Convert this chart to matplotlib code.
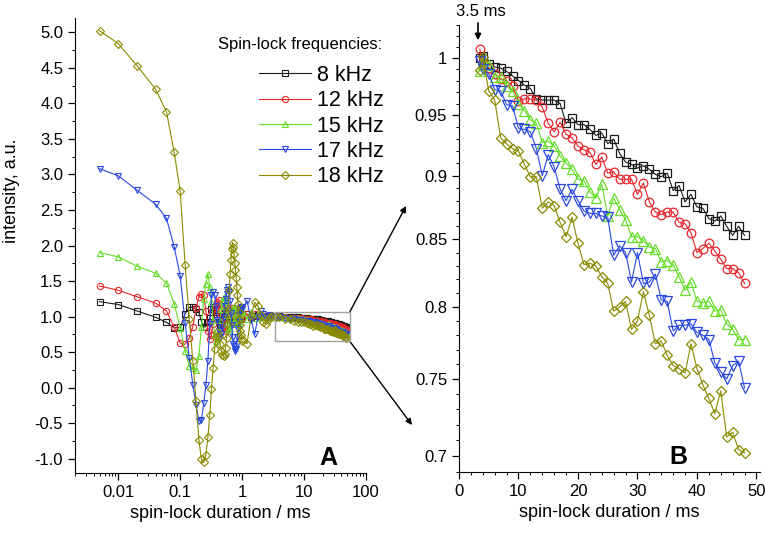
import numpy as np
import matplotlib
matplotlib.use("Agg")
import matplotlib.pyplot as plt
from matplotlib.patches import Rectangle
from matplotlib.ticker import FixedLocator, FuncFormatter, LogLocator, NullFormatter, MultipleLocator

plt.rcParams['font.family'] = ['Liberation Sans', 'DejaVu Sans']
plt.rcParams['axes.unicode_minus'] = False

# spin-lock durations, ms
t_ms = [0.005, 0.01, 0.02, 0.04, 0.06, 0.08,
        0.10, 0.12, 0.14, 0.16, 0.18, 0.20, 0.22, 0.24, 0.26, 0.28,
        0.30, 0.32, 0.34, 0.36, 0.38, 0.40, 0.42, 0.44, 0.46, 0.48,
        0.50, 0.52, 0.54, 0.56, 0.58, 0.60, 0.62, 0.64, 0.66, 0.68,
        0.70, 0.72, 0.74, 0.76, 0.78, 0.80, 0.82, 0.84, 0.86, 0.88,
        0.90, 0.92, 0.94, 0.96, 0.98, 1.00,
        1.2, 1.4, 1.6, 1.8, 2.0, 2.2, 2.4, 2.6, 2.8, 3.0,
        3.5, 4, 5, 6, 7, 8, 9, 10, 11, 12,
        13, 14, 15, 16, 17, 18, 19, 20, 21, 22,
        23, 24, 25, 26, 27, 28, 29, 30, 31, 32,
        33, 34, 35, 36, 37, 38, 39, 40, 41, 42,
        43, 44, 45, 46, 47, 48]

# intensities, a.u.
int_8khz = [1.21, 1.17, 1.08, 0.99, 0.92, 0.84,
            0.85, 1.04, 1.13, 1.13, 1.11, 1.06, 0.93, 0.85, 0.86, 0.93,
            0.98, 1.10, 1.13, 1.09, 1.03, 0.98, 0.93, 0.90, 0.91, 0.96,
            1.01, 1.05, 1.08, 1.07, 1.04, 1.00, 0.97, 0.95, 0.95, 0.96,
            0.99, 1.01, 1.03, 1.04, 1.04, 1.03, 1.01, 0.99, 0.98, 0.97,
            0.97, 0.98, 0.99, 1.00, 1.01, 1.02,
            1.03, 0.99, 1.01, 1.02, 1.01, 1.01, 1.00, 1.00, 1.01, 1.00,
            1.000, 1.002, 0.995, 0.992, 0.991, 0.988, 0.984, 0.980, 0.976, 0.973,
            0.964, 0.963, 0.963, 0.963, 0.960, 0.943, 0.948, 0.942, 0.942, 0.938,
            0.933, 0.935, 0.926, 0.930, 0.918, 0.911, 0.909, 0.906, 0.908, 0.905,
            0.901, 0.899, 0.902, 0.888, 0.892, 0.879, 0.885, 0.875, 0.874, 0.866,
            0.864, 0.868, 0.860, 0.853, 0.860, 0.853]

int_12khz = [1.43, 1.37, 1.28, 1.19, 1.08, 0.85,
             0.63, 0.61, 0.70, 0.86, 1.12, 1.28, 1.32, 1.30, 1.08, 0.80,
             0.68, 0.74, 0.90, 1.04, 1.15, 1.21, 1.23, 1.18, 1.09, 0.99,
             0.90, 0.83, 0.80, 0.82, 0.88, 0.95, 1.03, 1.09, 1.12, 1.12,
             1.08, 1.02, 0.96, 0.91, 0.89, 0.90, 0.93, 0.98, 1.02, 1.06,
             1.07, 1.06, 1.04, 1.01, 0.98, 0.96,
             1.04, 0.98, 1.03, 1.01, 1.00, 1.01, 1.00, 1.00, 1.01, 1.00,
             1.008, 0.996, 0.991, 0.986, 0.981, 0.980, 0.975, 0.962, 0.964, 0.964,
             0.963, 0.957, 0.943, 0.936, 0.944, 0.934, 0.931, 0.924, 0.921, 0.919,
             0.909, 0.915, 0.902, 0.903, 0.897, 0.897, 0.897, 0.885, 0.894, 0.879,
             0.871, 0.869, 0.871, 0.871, 0.863, 0.862, 0.855, 0.840, 0.843, 0.847,
             0.841, 0.835, 0.828, 0.828, 0.825, 0.817]

int_15khz = [1.90, 1.84, 1.71, 1.61, 1.47, 1.18,
             0.84, 0.51, 0.30, 0.27, 0.25, 0.44, 0.85, 1.25, 1.46, 1.60,
             1.42, 1.20, 0.95, 0.75, 0.66, 0.68, 0.80, 0.95, 1.10, 1.22,
             1.28, 1.25, 1.15, 1.02, 0.90, 0.82, 0.80, 0.83, 0.90, 0.98,
             1.06, 1.12, 1.14, 1.12, 1.07, 1.00, 0.94, 0.91, 0.90, 0.92,
             0.96, 1.00, 1.04, 1.07, 1.08, 1.08,
             0.96, 1.06, 0.98, 1.03, 1.00, 1.01, 1.00, 0.99, 1.00, 1.00,
             0.988, 0.998, 0.994, 0.983, 0.983, 0.975, 0.971, 0.960, 0.954, 0.946,
             0.943, 0.927, 0.928, 0.924, 0.916, 0.910, 0.905, 0.897, 0.896, 0.887,
             0.882, 0.893, 0.868, 0.882, 0.873, 0.865, 0.852, 0.852, 0.849, 0.844,
             0.843, 0.833, 0.834, 0.831, 0.822, 0.812, 0.818, 0.804, 0.803, 0.804,
             0.797, 0.798, 0.788, 0.784, 0.777, 0.777]

int_17khz = [3.08, 2.98, 2.78, 2.58, 2.38, 1.98,
             1.57, 0.91, 0.42, 0.04, -0.24, -0.47, -0.45, -0.22, 0.04, 0.38,
             0.90, 1.30, 1.35, 1.30, 1.15, 0.95, 0.80, 0.72, 0.75, 0.85,
             1.00, 1.15, 1.25, 1.32, 1.38, 1.42, 1.35, 1.22, 1.05, 0.88,
             0.72, 0.62, 0.58, 0.55, 0.52, 0.55, 0.62, 0.72, 0.82, 0.92,
             1.02, 1.08, 1.12, 1.14, 1.13, 1.10,
             1.22, 0.95, 0.75, 1.00, 1.08, 1.04, 0.98, 1.00, 1.02, 1.01,
             0.997, 0.990, 0.986, 0.972, 0.971, 0.959, 0.958, 0.939, 0.938, 0.936,
             0.922, 0.900, 0.917, 0.907, 0.889, 0.880, 0.889, 0.880, 0.872, 0.870,
             0.870, 0.868, 0.867, 0.838, 0.845, 0.840, 0.818, 0.840, 0.817, 0.818,
             0.824, 0.805, 0.804, 0.783, 0.787, 0.787, 0.788, 0.782, 0.780, 0.777,
             0.761, 0.755, 0.750, 0.759, 0.762, 0.744]

int_18khz = [5.02, 4.84, 4.53, 4.20, 3.88, 3.31,
             2.76, 1.73, 0.97, 0.37, -0.19, -0.73, -1.01, -1.05, -0.94, -0.69,
             -0.38, -0.02, 0.28, 0.55, 0.72, 0.78, 0.72, 0.62, 0.52, 0.46,
             0.45, 0.48, 0.56, 0.70, 0.90, 1.12, 1.38, 1.60, 1.80, 1.95,
             2.04, 1.98, 1.88, 1.76, 1.65, 1.54, 1.42, 1.30, 1.18, 1.07,
             0.97, 0.88, 0.80, 0.74, 0.69, 0.65,
             0.62, 1.02, 1.20, 1.15, 1.02, 0.92, 0.90, 0.95, 1.00, 1.01,
             0.989, 1.001, 0.971, 0.963, 0.931, 0.926, 0.922, 0.920, 0.909, 0.899,
             0.899, 0.874, 0.879, 0.876, 0.863, 0.852, 0.867, 0.847, 0.831, 0.832,
             0.830, 0.822, 0.817, 0.797, 0.800, 0.804, 0.784, 0.790, 0.811, 0.794,
             0.774, 0.776, 0.766, 0.759, 0.757, 0.754, 0.774, 0.757, 0.746, 0.737,
             0.727, 0.742, 0.712, 0.715, 0.704, 0.702]

labels = ['8 kHz', '12 kHz', '15 kHz', '17 kHz', '18 kHz']
series = [int_8khz, int_12khz, int_15khz, int_17khz, int_18khz]
colors = ['#1a1a1a', '#e8262a', '#66dd2a', '#2a48e0', '#8a8a00']
markers = ['s', 'o', '^', 'v', 'D']
ms_left = [4.2, 4.5, 4.8, 4.8, 3.8]
ms_right = [6.0, 6.2, 6.8, 6.8, 5.2]

ZOOM_FROM = 3.5

fig = plt.figure(figsize=(7.65, 5.46), dpi=100)
ax1 = fig.add_axes([75 / 765, 1 - 473 / 546, 291 / 765, 455 / 546])
ax2 = fig.add_axes([459 / 765, 1 - 472 / 546, 301 / 765, 447 / 546])

t = np.array(t_ms)
zoom = t >= ZOOM_FROM
handles = []
for vals, lab, c, m, msl, msr in zip(series, labels, colors, markers, ms_left, ms_right):
    v = np.array(vals)
    h, = ax1.plot(t, v, marker=m, color=c, mfc='none', mec=c, lw=0.8, ms=msl, mew=0.8, label=lab)
    ax2.plot(t[zoom], v[zoom], marker=m, color=c, mfc='none', mec=c, lw=0.8, ms=msr, mew=0.9)
    handles.append(h)

# left panel: log time axis
ax1.set_xscale('log')
ax1.set_xlim(0.002, 100)
ax1.set_ylim(-1.2, 5.2)
ax1.xaxis.set_major_locator(FixedLocator([0.01, 0.1, 1, 10, 100]))
ax1.xaxis.set_major_formatter(FuncFormatter(lambda x, p: '%g' % x))
ax1.xaxis.set_minor_locator(LogLocator(base=10, subs=np.arange(2, 10)))
ax1.xaxis.set_minor_formatter(NullFormatter())
ax1.yaxis.set_major_locator(MultipleLocator(0.5))
ax1.yaxis.set_minor_locator(MultipleLocator(0.25))
ax1.yaxis.set_major_formatter(FuncFormatter(lambda y, p: '%.1f' % y))
ax1.set_xlabel('spin-lock duration / ms', fontsize=13)

# right panel: linear time, log intensity
ax2.set_yscale('log')
ax2.set_xlim(0, 50.6)
ax2.set_ylim(0.69, 1.03)
ax2.xaxis.set_major_locator(MultipleLocator(10))
ax2.xaxis.set_minor_locator(MultipleLocator(2))
ax2.yaxis.set_major_locator(FixedLocator([0.7, 0.75, 0.8, 0.85, 0.9, 0.95, 1.0]))
ax2.yaxis.set_major_formatter(FuncFormatter(lambda y, p: '%g' % round(y, 2)))
ax2.yaxis.set_minor_locator(FixedLocator(np.arange(0.69, 1.035, 0.01)))
ax2.yaxis.set_minor_formatter(NullFormatter())
ax2.set_xlabel('spin-lock duration / ms', fontsize=13)

for ax in (ax1, ax2):
    for s in ('top', 'right'):
        ax.spines[s].set_visible(False)
    ax.tick_params(which='major', direction='out', length=5, width=0.9, labelsize=12)
    ax.tick_params(which='minor', direction='out', length=2.5, width=0.7)

fig.text(12 / 765, 1 - 191 / 546, 'intensity, a.u.', rotation=90, ha='center', va='center', fontsize=13)
fig.text(328 / 765, 1 - 458 / 546, 'A', fontsize=18, fontweight='bold', ha='center', va='center')
fig.text(678 / 765, 1 - 457 / 546, 'B', fontsize=18, fontweight='bold', ha='center', va='center')

# legend: title as separate text, entries below it
fig.text(382 / 765, 1 - 45 / 546, 'Spin-lock frequencies:', fontsize=12, ha='right', va='center')
ax1.legend(handles=handles, loc='upper right',
           bbox_to_anchor=(384 / 765, 1 - 65 / 546), bbox_transform=fig.transFigure,
           frameon=False, fontsize=15.5, handlelength=2.4,
           handletextpad=0.3, labelspacing=0.2, borderaxespad=0, borderpad=0)

# zoom box and connecting arrows
box_x0, box_x1, box_y0, box_y1 = 3.4, 55, 0.65, 1.07
ax1.add_patch(Rectangle((box_x0, box_y0), box_x1 - box_x0, box_y1 - box_y0,
                        fill=False, ec='#a0a0a0', lw=1.0, zorder=5))
arrow = dict(arrowstyle='-|>', color='black', lw=1.0, mutation_scale=9, shrinkA=0, shrinkB=0)
ax1.annotate('', xy=(406 / 765, 1 - 206 / 546), xycoords='figure fraction',
             xytext=(box_x1, box_y1), textcoords='data', arrowprops=arrow, annotation_clip=False)
ax1.annotate('', xy=(412 / 765, 1 - 425 / 546), xycoords='figure fraction',
             xytext=(box_x1, box_y0), textcoords='data', arrowprops=arrow, annotation_clip=False)

# 3.5 ms marker
ax2.annotate('', xy=(3.2, 1.016), xycoords='data', xytext=(478 / 765, 1 - 23 / 546),
             textcoords='figure fraction', arrowprops=dict(arrowstyle='-|>', color='black', lw=1.2,
                                                           mutation_scale=9, shrinkA=0, shrinkB=0),
             annotation_clip=False)
fig.text(481 / 765, 1 - 11 / 546, '3.5 ms', fontsize=12, ha='center', va='center')

fig.savefig('out.png', dpi=100)
